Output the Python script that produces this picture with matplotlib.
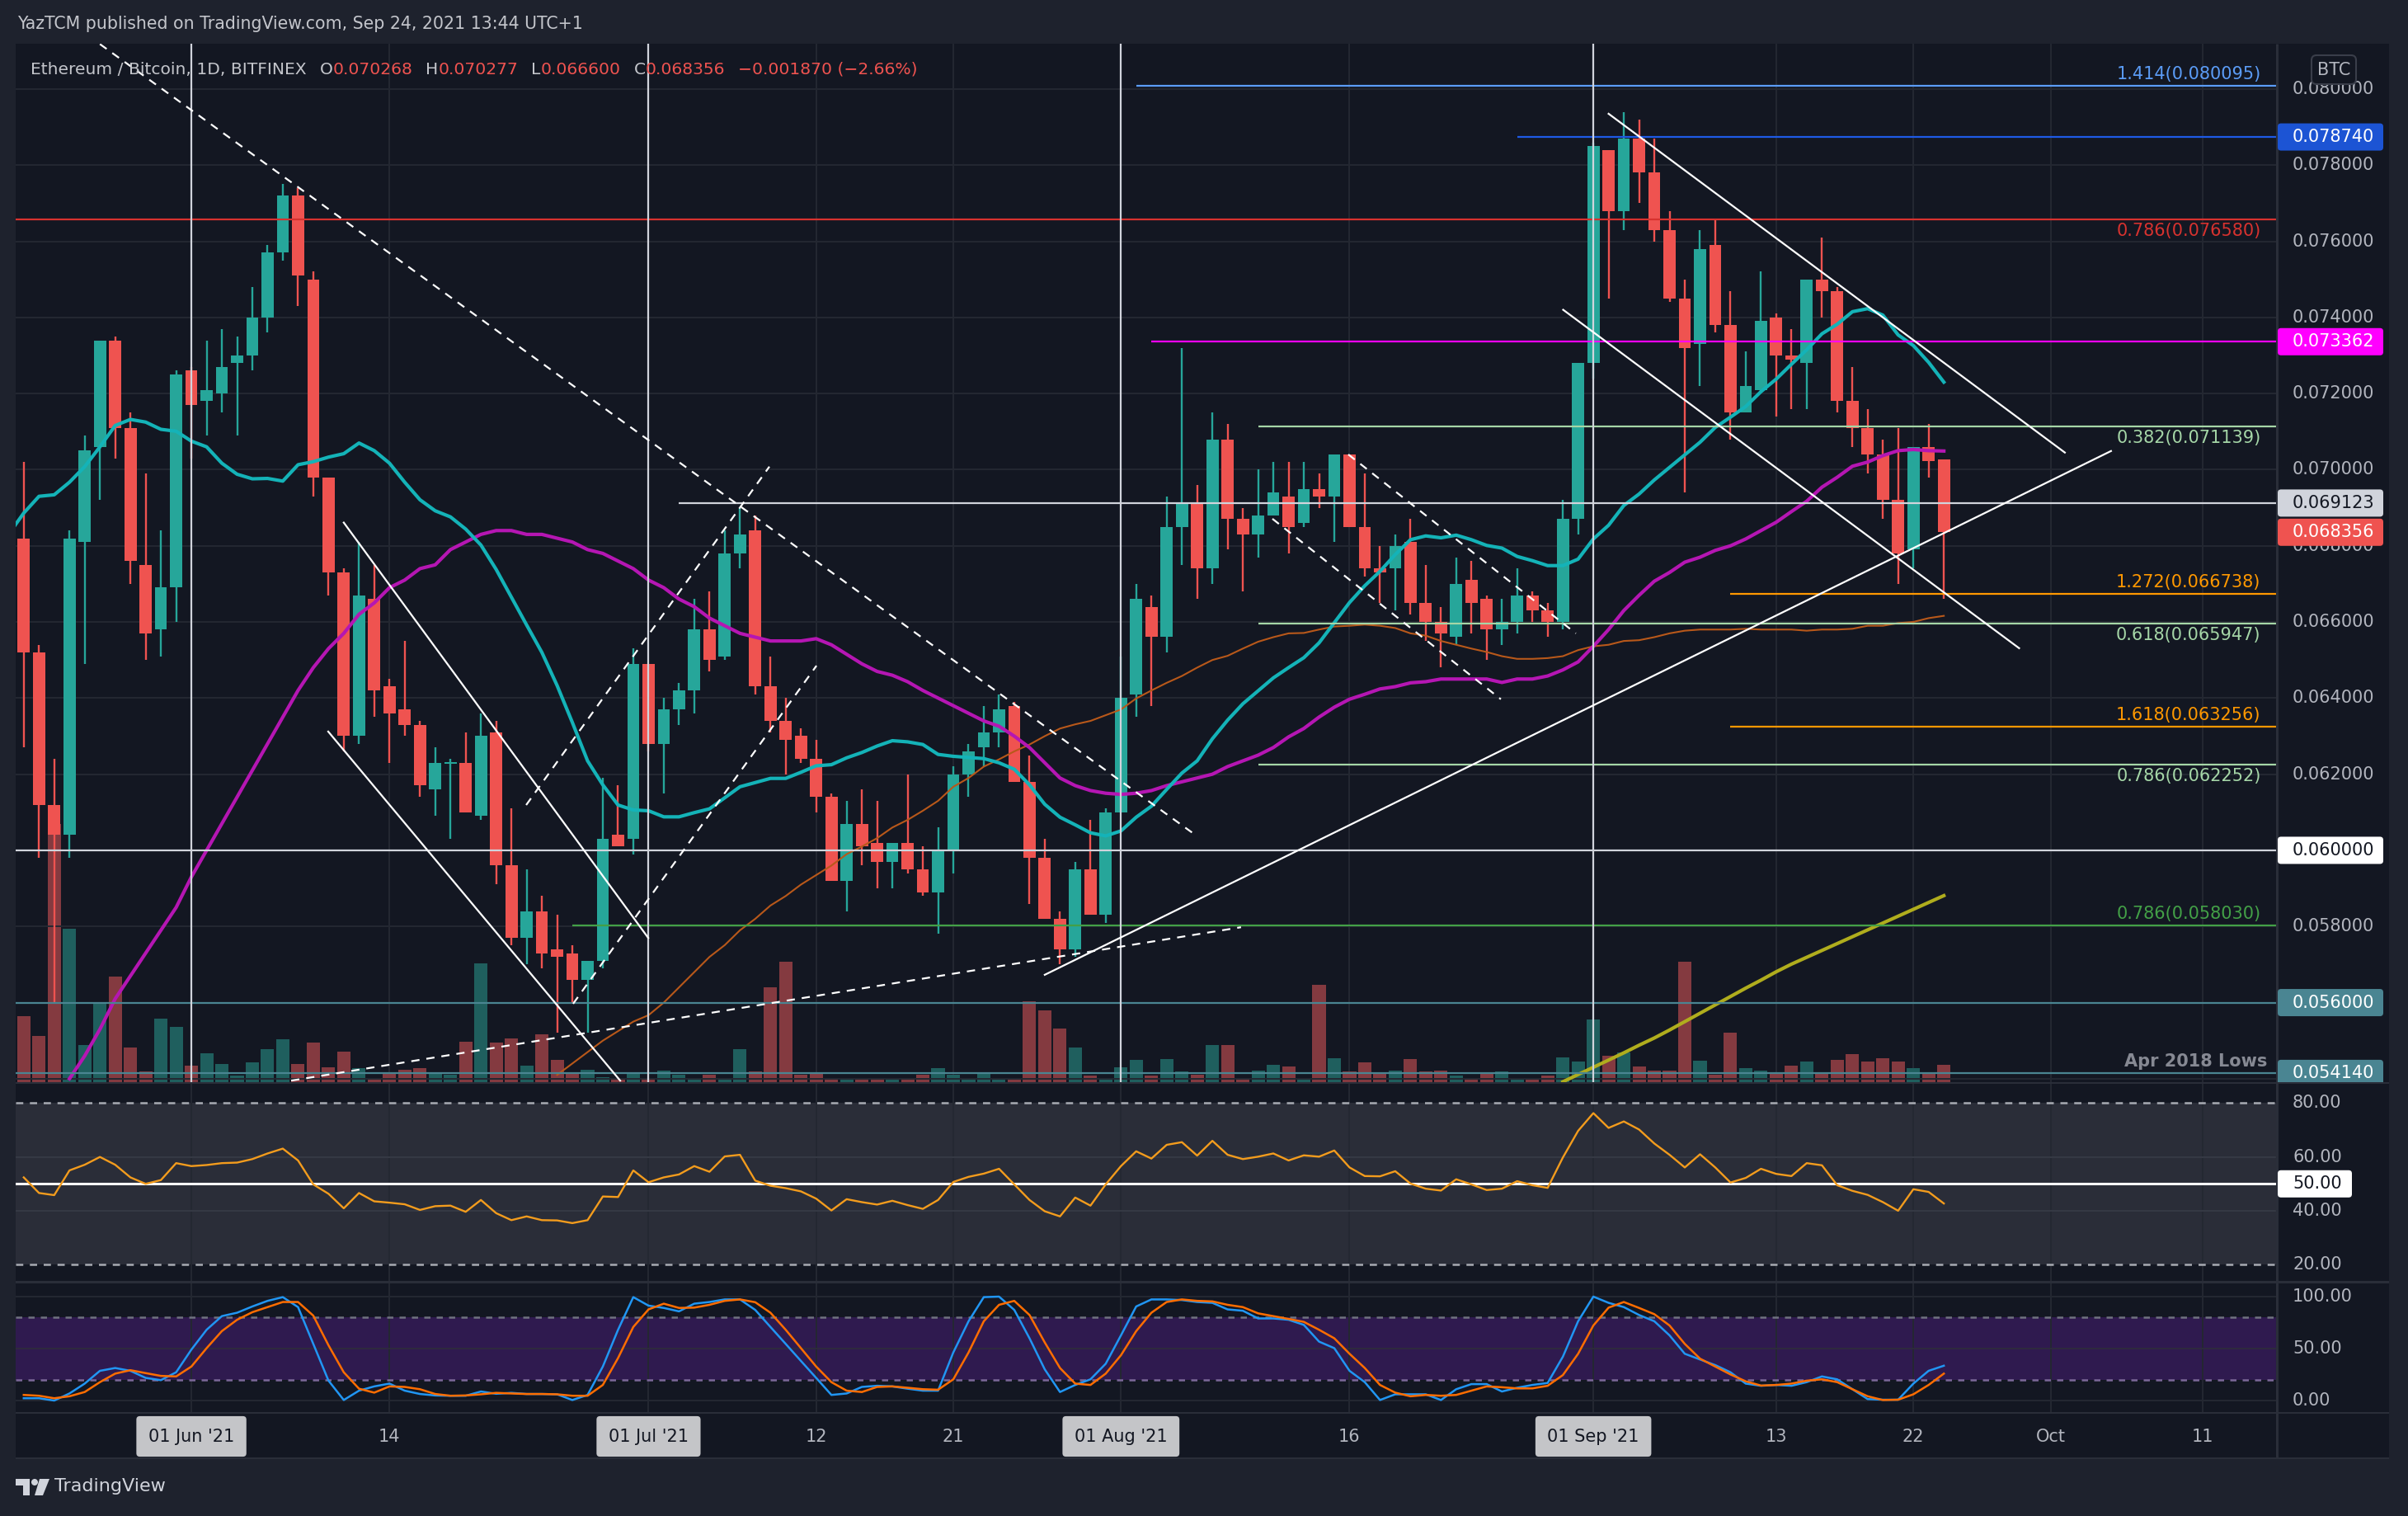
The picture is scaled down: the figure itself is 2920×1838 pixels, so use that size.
import matplotlib
matplotlib.use("Agg")
import matplotlib.pyplot as plt
from matplotlib.patches import Rectangle, Circle, Polygon, FancyBboxPatch
import numpy as np
import pandas as pd

plt.rcParams['font.family'] = ['DejaVu Sans']

# ---------------------------------------------------------------- data
dates = pd.date_range("2021-05-21", "2021-09-24", freq="D")

opens = [0.0682, 0.0652, 0.0612, 0.0604, 0.0681, 0.0706, 0.0734, 0.0711, 0.0675, 0.0658,
         0.0669, 0.0726, 0.0718, 0.0720, 0.0728, 0.0730, 0.0740, 0.0757, 0.0772, 0.0750,
         0.0698, 0.0673, 0.0630, 0.0666, 0.0643, 0.0637, 0.0633, 0.0616, 0.06228, 0.0623,
         0.0609, 0.0631, 0.0596, 0.0577, 0.0584, 0.0574, 0.0573, 0.0566, 0.0571, 0.0604,
         0.0603, 0.0649, 0.0628, 0.0637, 0.0642, 0.0658, 0.0651, 0.0678, 0.0684, 0.0643,
         0.0634, 0.0630, 0.0624, 0.0614, 0.0592, 0.0607, 0.0602, 0.0597, 0.0602, 0.0595,
         0.0589, 0.0600, 0.0620, 0.0627, 0.0631, 0.0638, 0.0618, 0.0598, 0.0582, 0.0574,
         0.0595, 0.0583, 0.0610, 0.0641, 0.0664, 0.0656, 0.0685, 0.0691, 0.0674, 0.0708,
         0.0687, 0.0683, 0.0688, 0.0693, 0.0686, 0.0695, 0.0693, 0.0704, 0.0685, 0.0674,
         0.0674, 0.0681, 0.0665, 0.0660, 0.0656, 0.0671, 0.0666, 0.0658, 0.0660, 0.0667,
         0.0663, 0.0660, 0.0687, 0.0728, 0.0784, 0.0768, 0.0787, 0.0778, 0.0763, 0.0745,
         0.0733, 0.0759, 0.0738, 0.0715, 0.0721, 0.0740, 0.0730, 0.0728, 0.0750, 0.0747,
         0.0718, 0.0711, 0.0704, 0.0692, 0.0679, 0.0706, 0.070268]
highs = [0.0702, 0.0654, 0.0624, 0.0684, 0.0709, 0.0734, 0.0735, 0.0715, 0.0699, 0.0684,
         0.0726, 0.0727, 0.0734, 0.0737, 0.0735, 0.0748, 0.0759, 0.0775, 0.0774, 0.0752,
         0.0698, 0.0674, 0.0681, 0.0675, 0.0645, 0.0655, 0.0634, 0.0627, 0.0624, 0.0631,
         0.0636, 0.0634, 0.0611, 0.0595, 0.0588, 0.0583, 0.0575, 0.0571, 0.0619, 0.0617,
         0.0653, 0.0649, 0.0640, 0.0644, 0.0666, 0.0668, 0.0684, 0.0690, 0.0688, 0.0651,
         0.0640, 0.0632, 0.0629, 0.0615, 0.0613, 0.0616, 0.0613, 0.0602, 0.0620, 0.0601,
         0.0606, 0.0622, 0.0628, 0.0638, 0.0641, 0.0639, 0.0625, 0.0603, 0.0584, 0.0597,
         0.0608, 0.0611, 0.0651, 0.0670, 0.0667, 0.0693, 0.0732, 0.0696, 0.0715, 0.0712,
         0.0690, 0.0700, 0.0702, 0.0702, 0.0702, 0.0699, 0.0704, 0.0704, 0.0699, 0.0680,
         0.0683, 0.0687, 0.0675, 0.0664, 0.0677, 0.0676, 0.0667, 0.0666, 0.0674, 0.0668,
         0.0665, 0.0692, 0.0728, 0.0786, 0.0784, 0.0794, 0.0792, 0.0787, 0.0768, 0.0750,
         0.0763, 0.0766, 0.0747, 0.0731, 0.0752, 0.0741, 0.0737, 0.0750, 0.0761, 0.0748,
         0.0727, 0.0716, 0.0708, 0.0711, 0.0706, 0.0712, 0.070277]
lows = [0.0627, 0.0598, 0.0560, 0.0598, 0.0649, 0.0692, 0.0703, 0.0670, 0.0650, 0.0651,
        0.0660, 0.0703, 0.0709, 0.0715, 0.0709, 0.0726, 0.0736, 0.0755, 0.0743, 0.0693,
        0.0667, 0.0626, 0.0628, 0.0635, 0.0623, 0.0630, 0.0614, 0.0609, 0.0603, 0.0610,
        0.0608, 0.0591, 0.0575, 0.0570, 0.0569, 0.0552, 0.0560, 0.0552, 0.0569, 0.0601,
        0.0599, 0.0626, 0.0615, 0.0633, 0.0636, 0.0647, 0.0650, 0.0674, 0.0641, 0.0631,
        0.0620, 0.0623, 0.0610, 0.0592, 0.0584, 0.0596, 0.0590, 0.0590, 0.0594, 0.0588,
        0.0578, 0.0594, 0.0614, 0.0622, 0.0627, 0.0618, 0.0586, 0.0582, 0.0570, 0.0572,
        0.0583, 0.0581, 0.0610, 0.0635, 0.0638, 0.0652, 0.0675, 0.0666, 0.0670, 0.0679,
        0.0668, 0.0677, 0.0688, 0.0678, 0.0685, 0.0690, 0.0681, 0.0685, 0.0672, 0.0665,
        0.0663, 0.0662, 0.0655, 0.0648, 0.0654, 0.0657, 0.0650, 0.0654, 0.0657, 0.0660,
        0.0656, 0.0658, 0.0683, 0.0724, 0.0745, 0.0763, 0.0770, 0.0760, 0.0744, 0.0694,
        0.0722, 0.0736, 0.0708, 0.0715, 0.0720, 0.0714, 0.0716, 0.0716, 0.0740, 0.0715,
        0.0706, 0.0699, 0.0687, 0.0670, 0.0674, 0.0698, 0.066600]
closes = [0.0652, 0.0612, 0.0604, 0.0682, 0.0705, 0.0734, 0.0711, 0.0676, 0.0657, 0.0669,
          0.0725, 0.0717, 0.0721, 0.0727, 0.0730, 0.0740, 0.0757, 0.0772, 0.0751, 0.0698,
          0.0673, 0.0630, 0.0667, 0.0642, 0.0636, 0.0633, 0.0617, 0.0623, 0.06232, 0.0610,
          0.0630, 0.0596, 0.0577, 0.0584, 0.0573, 0.0572, 0.0566, 0.0571, 0.0603, 0.0601,
          0.0649, 0.0628, 0.0637, 0.0642, 0.0658, 0.0650, 0.0678, 0.0683, 0.0643, 0.0634,
          0.0629, 0.0624, 0.0614, 0.0592, 0.0607, 0.0601, 0.0597, 0.0602, 0.0595, 0.0589,
          0.0600, 0.0620, 0.0626, 0.0631, 0.0637, 0.0618, 0.0598, 0.0582, 0.0574, 0.0595,
          0.0583, 0.0610, 0.0640, 0.0666, 0.0656, 0.0685, 0.0691, 0.0674, 0.0708, 0.0687,
          0.0683, 0.0688, 0.0694, 0.0685, 0.0695, 0.0693, 0.0704, 0.0685, 0.0674, 0.0673,
          0.0680, 0.0665, 0.0660, 0.0657, 0.0670, 0.0665, 0.0658, 0.0660, 0.0667, 0.0663,
          0.0660, 0.0687, 0.0728, 0.0785, 0.0768, 0.0787, 0.0778, 0.0763, 0.0745, 0.0732,
          0.0758, 0.0738, 0.0715, 0.0722, 0.0739, 0.0730, 0.0729, 0.0750, 0.0747, 0.0718,
          0.0711, 0.0704, 0.0692, 0.0678, 0.0706, 0.070226, 0.068356]
volumes = [80, 56, 313, 186, 45, 95, 128, 42, 13, 77,
           67, 20, 35, 22, 8, 24, 40, 52, 22, 48,
           18, 37, 17, 4, 12, 15, 17, 11, 9, 49,
           144, 48, 53, 20, 58, 27, 11, 15, 6, 5,
           12, 5, 14, 9, 5, 9, 5, 40, 13, 115,
           146, 9, 11, 5, 5, 4, 5, 4, 5, 9,
           17, 9, 4, 10, 3, 3, 98, 87, 65, 42,
           8, 5, 18, 27, 8, 28, 13, 9, 45, 45,
           5, 14, 21, 19, 4, 118, 29, 13, 24, 11,
           14, 28, 13, 14, 8, 5, 10, 13, 3, 3,
           8, 30, 25, 76, 32, 36, 19, 14, 14, 146,
           26, 9, 60, 17, 14, 10, 20, 25, 12, 27,
           34, 25, 29, 25, 17, 10, 21]

ma20_start = "2021-05-20"
ma20 = [0.06830,
        0.06886, 0.06930, 0.06934, 0.06967, 0.07008, 0.07060, 0.07116, 0.07132, 0.07125, 0.07106,
        0.07101, 0.07075, 0.07060, 0.07017, 0.06988, 0.06976, 0.06977, 0.06970, 0.07013, 0.07021,
        0.07033, 0.07042, 0.07070, 0.07050, 0.07017, 0.06967, 0.06921, 0.06892, 0.06876, 0.06844,
        0.06802, 0.06738, 0.06665, 0.06592, 0.06520, 0.06433, 0.06336, 0.06235, 0.06172, 0.06119,
        0.06106, 0.06104, 0.06088, 0.06088, 0.06099, 0.06109, 0.06138, 0.06167, 0.06178, 0.06189,
        0.06189, 0.06205, 0.06222, 0.06225, 0.06243, 0.06257, 0.06274, 0.06288, 0.06285, 0.06278,
        0.06252, 0.06247, 0.06244, 0.06241, 0.06230, 0.06213, 0.06172, 0.06121, 0.06087, 0.06067,
        0.06046, 0.06038, 0.06051, 0.06087, 0.06116, 0.06160, 0.06203, 0.06235, 0.06293, 0.06342,
        0.06385, 0.06419, 0.06453, 0.06480, 0.06506, 0.06545, 0.06598, 0.06651, 0.06695, 0.06733,
        0.06777, 0.06816, 0.06826, 0.06821, 0.06828, 0.06816, 0.06801, 0.06794, 0.06772, 0.06761,
        0.06748, 0.06748, 0.06765, 0.06818, 0.06854, 0.06906, 0.06936, 0.06973, 0.07006, 0.07039,
        0.07072, 0.07111, 0.07138, 0.07166, 0.07205, 0.07238, 0.07277, 0.07315, 0.07357, 0.07382,
        0.07415, 0.07423, 0.07406, 0.07354, 0.07326, 0.07282, 0.07230]
ma50_start = "2021-05-24"
ma50 = [0.0540, 0.0546, 0.0553, 0.0561, 0.0567, 0.0573, 0.0579, 0.0585, 0.0593, 0.0600,
        0.0607, 0.0614, 0.0621, 0.0628, 0.0635, 0.0642, 0.0648, 0.0653, 0.0657, 0.0662,
        0.0665, 0.0669, 0.0671, 0.0674, 0.0675, 0.0679, 0.0681, 0.0683, 0.0684, 0.0684,
        0.0683, 0.0683, 0.0682, 0.0681, 0.0679, 0.0678, 0.0676, 0.0674, 0.0671, 0.0669,
        0.0666, 0.0664, 0.0661, 0.0659, 0.0657, 0.0656, 0.0655, 0.0655, 0.0655, 0.06556,
        0.0654, 0.06515, 0.0649, 0.0647, 0.0646, 0.06443, 0.0642, 0.0640, 0.0638, 0.0636,
        0.0634, 0.06326, 0.0630, 0.0627, 0.0623, 0.0619, 0.0617, 0.06157, 0.0615, 0.06147,
        0.0615, 0.06157, 0.0617, 0.0618, 0.0619, 0.0620, 0.0622, 0.06235, 0.0625, 0.0627,
        0.06298, 0.0632, 0.0635, 0.06376, 0.06397, 0.0641, 0.06424, 0.0643, 0.0644, 0.06443,
        0.0645, 0.0645, 0.0645, 0.0645, 0.06441, 0.0645, 0.0645, 0.06458, 0.06474, 0.06495,
        0.06536, 0.0658, 0.0663, 0.0667, 0.06707, 0.0673, 0.06757, 0.0677, 0.06788, 0.0680,
        0.06818, 0.0684, 0.06862, 0.0689, 0.06917, 0.06954, 0.0698, 0.07009, 0.0702, 0.07037,
        0.0705, 0.07053, 0.0705, 0.07049]
ma100_start = "2021-06-25"
ma100 = [0.0541, 0.0544, 0.0547, 0.0550, 0.05525, 0.0555, 0.05567, 0.0560, 0.0564, 0.0568,
         0.0572, 0.05751, 0.0579, 0.0582, 0.05855, 0.0588, 0.0591, 0.05935, 0.0596, 0.0599,
         0.0601, 0.06032, 0.0606, 0.0608, 0.06104, 0.0613, 0.06167, 0.0619, 0.0622, 0.06239,
         0.0626, 0.06278, 0.0630, 0.0632, 0.06331, 0.0634, 0.06355, 0.0637, 0.06399, 0.0642,
         0.0644, 0.06458, 0.0648, 0.0650, 0.06511, 0.0653, 0.06548, 0.0656, 0.0657, 0.06571,
         0.0658, 0.06588, 0.0659, 0.06593, 0.0659, 0.06584, 0.0657, 0.06564, 0.0655, 0.0654,
         0.0653, 0.06521, 0.0651, 0.06503, 0.06503, 0.06505, 0.0651, 0.06526, 0.06536, 0.0654,
         0.0655, 0.06552, 0.0656, 0.0657, 0.06577, 0.0658, 0.0658, 0.0658, 0.06582, 0.0658,
         0.0658, 0.0658, 0.06577, 0.0658, 0.0658, 0.06582, 0.0659, 0.0659, 0.06597, 0.0660,
         0.0661, 0.06616]
ma200_start = "2021-08-30"
ma200 = [0.05392, 0.05411, 0.05430, 0.05449, 0.05468, 0.05488, 0.05507, 0.05528, 0.05550, 0.05572,
         0.05594, 0.05616, 0.05638, 0.05659, 0.05681, 0.05701, 0.05719, 0.05737, 0.05755, 0.05773,
         0.05791, 0.05809, 0.05827, 0.05845, 0.05863, 0.05881]

rsi = [52.4, 46.6, 45.8, 55.0, 57.1, 60.0, 57.1, 52.4, 50.0, 51.4,
       57.7, 56.6, 57.0, 57.7, 57.9, 59.2, 61.3, 63.1, 58.7, 49.8,
       46.3, 40.9, 46.6, 43.5, 43.0, 42.4, 40.3, 41.7, 41.9, 39.6,
       44.0, 39.1, 36.5, 37.9, 36.5, 36.4, 35.4, 36.5, 45.3, 45.1,
       55.0, 50.6, 52.4, 53.5, 56.6, 54.5, 60.2, 60.8, 51.2, 49.3,
       48.4, 47.2, 44.5, 40.1, 44.3, 43.2, 42.3, 43.7, 42.1, 40.7,
       44.0, 50.7, 52.6, 53.8, 55.6, 49.8, 44.0, 39.8, 37.9, 44.9,
       41.9, 49.8, 56.6, 62.1, 59.4, 64.5, 65.5, 60.5, 66.0, 60.8,
       59.2, 60.1, 61.3, 58.7, 60.6, 60.1, 62.4, 56.1, 52.9, 52.8,
       54.7, 50.1, 48.2, 47.5, 51.7, 49.8, 47.7, 48.2, 51.0, 49.5,
       48.5, 59.8, 69.7, 76.3, 70.8, 73.2, 70.2, 65.0, 60.8, 56.1,
       61.0, 56.1, 50.5, 52.2, 55.6, 53.7, 52.9, 57.7, 56.9, 49.5,
       47.4, 45.9, 43.2, 40.0, 48.0, 47.0, 42.7]
stoch_k = [2.2, 2.2, 0.0, 6.8, 16.3, 28.6, 31.3, 28.6, 21.8, 19.6,
           27.2, 49.0, 68.1, 81.2, 84.5, 90.5, 95.9, 99.5, 89.9, 54.5,
           19.1, 0.5, 9.5, 13.6, 16.3, 9.5, 6.3, 4.9, 4.6, 4.6,
           8.7, 6.5, 7.4, 6.3, 6.3, 6.0, 0.5, 5.4, 32.7, 68.1,
           99.5, 91.3, 89.1, 85.8, 93.2, 94.8, 97.3, 97.3, 87.2, 70.8,
           54.5, 38.1, 21.8, 5.4, 6.8, 13.1, 14.2, 13.6, 11.4, 9.5,
           9.5, 46.3, 76.3, 99.5, 100.0, 87.2, 59.9, 30.0, 8.2, 15.0,
           20.4, 35.4, 62.7, 90.5, 97.3, 97.3, 96.7, 94.8, 94.0, 87.7,
           86.4, 79.0, 79.0, 77.7, 72.8, 56.7, 50.4, 28.6, 17.7, 0.5,
           6.0, 6.0, 6.0, 0.5, 10.9, 15.8, 15.8, 8.7, 12.3, 15.0,
           16.9, 42.2, 76.3, 100.0, 94.0, 89.9, 82.3, 76.3, 62.7, 45.0,
           39.5, 34.1, 27.2, 16.3, 14.2, 15.0, 14.2, 17.7, 23.2, 20.4,
           10.9, 1.4, 0.8, 0.8, 16.3, 28.6, 33.5]
stoch_d = [5.4, 4.6, 2.2, 4.1, 8.2, 17.7, 25.9, 29.2, 26.4, 23.7,
           23.2, 32.7, 50.4, 66.8, 77.7, 85.0, 89.9, 94.8, 94.8, 81.7,
           53.1, 27.2, 11.4, 7.6, 13.6, 13.1, 10.9, 6.3, 4.6, 4.9,
           6.0, 7.4, 6.8, 6.3, 6.3, 6.0, 4.6, 4.6, 15.0, 40.9,
           70.8, 87.7, 93.2, 89.1, 89.4, 92.1, 95.9, 97.3, 94.6, 84.5,
           68.1, 50.4, 32.7, 17.7, 9.5, 8.2, 13.1, 13.6, 12.3, 10.9,
           10.4, 20.4, 46.3, 76.3, 92.1, 95.9, 82.3, 55.9, 31.3, 16.3,
           15.0, 25.9, 43.6, 66.8, 84.5, 94.8, 97.3, 95.9, 95.4, 92.1,
           89.9, 83.9, 81.2, 78.5, 75.7, 68.1, 59.9, 45.0, 31.3, 15.0,
           7.6, 4.1, 5.4, 4.6, 5.4, 9.5, 13.6, 12.8, 11.7, 11.7,
           14.2, 24.5, 45.0, 72.2, 89.4, 94.8, 89.1, 83.1, 72.2, 54.5,
           40.3, 32.7, 25.1, 18.5, 14.4, 15.0, 16.3, 19.1, 20.4, 17.7,
           10.9, 4.1, 0.5, 0.8, 6.0, 15.0, 25.9]

# horizontal levels: (price, start date, colour, label, label position)
levels = [
    (0.080095, "2021-08-02", "#5b9cf6", "1.414(0.080095)", "above"),
    (0.078740, "2021-08-27", "#1e5ae6", None, None),
    (0.076580, "2021-05-01", "#d7322f", "0.786(0.076580)", "below"),
    (0.073362, "2021-08-03", "#ff00ff", None, None),
    (0.071139, "2021-08-10", "#a5d6a7", "0.382(0.071139)", "below"),
    (0.069123, "2021-07-03", "#d1d4dc", None, None),
    (0.066738, "2021-09-10", "#ff9800", "1.272(0.066738)", "above"),
    (0.065947, "2021-08-10", "#a5d6a7", "0.618(0.065947)", "below"),
    (0.063256, "2021-09-10", "#ff9800", "1.618(0.063256)", "above"),
    (0.062252, "2021-08-10", "#a5d6a7", "0.786(0.062252)", "below"),
    (0.060000, "2021-05-01", "#d1d4dc", None, None),
    (0.058030, "2021-06-26", "#43a047", "0.786(0.058030)", "above"),
    (0.056000, "2021-05-01", "#4a8592", None, None),
    (0.054140, "2021-05-01", "#4a8592", "Apr 2018 Lows", "above"),
]
# price-scale badges: (price, text, background, text colour)
badges = [
    (0.078740, "0.078740", "#1c54d4", "#ffffff"),
    (0.073362, "0.073362", "#ff00ff", "#ffffff"),
    (0.069123, "0.069123", "#d1d4dc", "#131722"),
    (0.068356, "0.068356", "#ef5350", "#ffffff"),
    (0.060000, "0.060000", "#ffffff", "#131722"),
    (0.056000, "0.056000", "#4a8592", "#ffffff"),
    (0.054140, "0.054140", "#4a8592", "#ffffff"),
]
price_ticks = [0.080, 0.078, 0.076, 0.074, 0.072, 0.070, 0.068, 0.066, 0.064, 0.062, 0.060, 0.058, 0.056]
price_tick_labels = ["0.080000", "0.078000", "0.076000", "0.074000", "0.072000", "0.070000", "0.068000",
                     "0.066000", "0.064000", "0.062000", "0.060000", "0.058000", "0.056000"]

# drawn trend lines (days from 2021-06-01, price)
trend_solid = [((10.0, 0.06861), (29.98, 0.05770)), ((8.98, 0.06312), (28.14, 0.05395)),
               ((56.0, 0.05673), (125.97, 0.07049)), ((93.0, 0.07935), (122.94, 0.07045)),
               ((90.02, 0.07420), (119.94, 0.06531))]
trend_dashed = [((-6.0, 0.08118), (65.9, 0.06040)), ((21.97, 0.06119), (37.93, 0.07008)),
                ((25.05, 0.05597), (41.02, 0.06485)), ((6.55, 0.05395), (68.88, 0.05798)),
                ((75.92, 0.07040), (90.85, 0.06570)), ((70.94, 0.06871), (85.93, 0.06397))]
vline_dates = ["2021-06-01", "2021-07-01", "2021-08-01", "2021-09-01"]

tick_dates = ["2021-06-01", "2021-06-14", "2021-07-01", "2021-07-12", "2021-07-21", "2021-08-01",
              "2021-08-16", "2021-09-01", "2021-09-13", "2021-09-22", "2021-10-01", "2021-10-11"]
tick_labels = ["01 Jun '21", "14", "01 Jul '21", "12", "21", "01 Aug '21", "16", "01 Sep '21",
               "13", "22", "Oct", "11"]
tick_boxed = [True, False, True, False, False, True, False, True, False, False, False, False]

rsi_ticks = [80, 60, 40, 20]
stoch_ticks = [100, 50, 0]

# ---------------------------------------------------------------- layout
W, H = 2920, 1838
fig = plt.figure(figsize=(W / 100, H / 100), dpi=100)
fig.patch.set_facecolor('#1e222d')

BG = '#131722'
GRID = '#242832'
SEP = '#2a2e39'
TXT = '#b2b5be'
UP, DN = '#26a69a', '#ef5350'
VUP, VDN = '#1f5f5e', '#843a40'
FS = 15

X0, X1, XR = 19, 2760, 2897
MAIN = (53, 1312)
RSIP = (1314, 1553)
STOP = (1556, 1712)
TAXP = (1714, 1767)


def fbox(x0, y0, x1, y1):
    return [x0 / W, 1 - y1 / H, (x1 - x0) / W, (y1 - y0) / H]


REF = pd.Timestamp("2021-06-01")


def dnum(d):
    return (pd.Timestamp(d) - REF).days


xmin, xmax = -11.53, 136.8

vax = fig.add_axes(fbox(X0, MAIN[0], X1, MAIN[1]))
ax = fig.add_axes(fbox(X0, MAIN[0], X1, MAIN[1]))
rax = fig.add_axes(fbox(X0, RSIP[0], X1, RSIP[1]))
sax = fig.add_axes(fbox(X0, STOP[0], X1, STOP[1]))
for a in (vax, ax, rax, sax):
    a.set_xlim(xmin, xmax)
    a.set_xticks([])
    a.set_yticks([])
    for s in a.spines.values():
        s.set_visible(False)
vax.set_facecolor(BG)
ax.patch.set_alpha(0)
rax.set_facecolor(BG)
sax.set_facecolor(BG)
ax.set_ylim(0.05391, 0.08119)
vax.set_ylim(0, 1259)
rax.set_ylim(13.9, 87.2)
sax.set_ylim(-11.1, 112.7)

x = np.array((dates - REF).days, dtype=float)
o, h, l, c = (np.array(v) for v in (opens, highs, lows, closes))
up = c >= o

# grid
for d in tick_dates:
    for a in (vax, rax, sax):
        a.axvline(dnum(d), color=GRID, lw=1.4, zorder=0.5)
for p in np.arange(0.054, 0.0801, 0.002):
    ax.axhline(p, color=GRID, lw=1.4, zorder=0.5)

# volume
vax.bar(x, volumes, width=0.87, color=np.where(up, VUP, VDN), linewidth=0, zorder=2)

# candles
ccol = np.where(up, UP, DN)
ax.vlines(x, l, h, colors=ccol, lw=1.7, zorder=4)
ax.bar(x, np.maximum(np.abs(c - o), 0.00004), bottom=np.minimum(o, c), width=0.8,
       color=ccol, linewidth=0, zorder=5)


def ma_x(start, vals):
    return dnum(start) + np.arange(len(vals))


ax.plot(ma_x(ma100_start, ma100), ma100, color='#b8581a', lw=1.5, zorder=6)
ax.plot(ma_x(ma200_start, ma200), ma200, color='#b0ad1d', lw=3.0, zorder=6)
ax.plot(ma_x(ma50_start, ma50), ma50, color='#b516b3', lw=3.0, zorder=6)
ax.plot(ma_x(ma20_start, ma20), ma20, color='#14b3b8', lw=3.0, zorder=6)

# horizontal levels
for p, start, col, lab, pos in levels:
    ax.hlines(p, dnum(start), xmax, color=col, lw=1.6, zorder=7)
    if lab:
        is_note = lab.startswith('Apr')
        fw = 'bold' if is_note else 'normal'
        tc = '#868993' if is_note else col
        off = 14 if pos == 'above' else -14
        ax.annotate(lab, xy=(136.2 if is_note else 135.8, p), xytext=(0, off),
                    textcoords='offset pixels', ha='right', va='center', color=tc,
                    fontsize=FS, fontweight=fw, zorder=8)

# vertical lines
for d in vline_dates:
    ax.axvline(dnum(d), color='#d1d4dc', lw=1.6, zorder=7)

# trend lines
for (a0, a1) in trend_solid:
    ax.plot([a0[0], a1[0]], [a0[1], a1[1]], color='#ffffff', lw=1.6, zorder=8)
for (a0, a1) in trend_dashed:
    ax.plot([a0[0], a1[0]], [a0[1], a1[1]], color='#ffffff', lw=1.6, zorder=8,
            dashes=(4.5, 3.8))

# RSI pane
rax.axhspan(20, 80, color='#2a2d38', zorder=0.3, lw=0)
for v in (40, 60):
    rax.axhline(v, color='#363a45', lw=1.4, zorder=0.6)
for v in (80, 20):
    rax.axhline(v, color='#a8abb3', lw=1.8, dashes=(3.5, 3.2), zorder=2)
rax.axhline(50, color='#ffffff', lw=2.2, zorder=3)
rax.plot(x, rsi, color='#f39c1d', lw=1.7, zorder=4)

# Stoch RSI pane
sax.axhspan(20, 80, color='#2f1a4f', zorder=0.3, lw=0)
for v in (0, 50, 100):
    sax.axhline(v, color='#2e2a3e' if v == 50 else GRID, lw=1.4, zorder=0.6)
sax.axhline(80, color='#6f7280', lw=1.8, dashes=(3.0, 3.0), zorder=2)
sax.axhline(20, color='#7b6899', lw=1.8, dashes=(3.0, 3.0), zorder=2)
sax.plot(x, stoch_k, color='#2196f3', lw=1.8, zorder=4)
sax.plot(x, stoch_d, color='#ff6d00', lw=1.8, zorder=4)

# ---------------------------------------------------------------- overlay (pixel coords)
ov = fig.add_axes([0, 0, 1, 1], zorder=20)
ov.set_xlim(0, W)
ov.set_ylim(H, 0)
ov.axis('off')
ov.patch.set_alpha(0)


def py(a, v):
    return H - a.transData.transform((0, v))[1]


def px(a, d):
    return a.transData.transform((d, 0))[0]


# price axis column
ov.add_patch(Rectangle((X1, MAIN[0]), XR - X1, TAXP[1] - MAIN[0], color=BG, lw=0, zorder=1))
ov.vlines(X1 + 1, MAIN[0], TAXP[1], color=SEP, lw=2.2, zorder=2)
for p, t in zip(price_ticks, price_tick_labels):
    yy = py(ax, p)
    if MAIN[0] + 10 < yy < MAIN[1] - 5:
        ov.text(2780, yy, t, color=TXT, fontsize=FS, va='center', ha='left', zorder=3)
for p, t, bg, tc in badges:
    yy = py(ax, p)
    ov.add_patch(FancyBboxPatch((X1 + 2, yy - 16.5), 128, 33, boxstyle='round,pad=0,rounding_size=4',
                                fc=bg, ec='none', zorder=4))
    ov.text(2780, yy, t, color=tc, fontsize=FS, va='center', ha='left', zorder=5)
# BTC tag
ov.add_patch(FancyBboxPatch((2803, 67), 54, 35, boxstyle='round,pad=0,rounding_size=6',
                            fc=BG, ec='#3a3e4a', lw=1.5, zorder=6))
ov.text(2830, 85, "BTC", color=TXT, fontsize=FS, va='center', ha='center', zorder=7)

# cover below main pane in price column, then separators
ov.add_patch(Rectangle((X1 + 2, MAIN[1]), XR - X1 - 2, TAXP[1] - MAIN[1], color=BG, lw=0, zorder=8))
for y0, y1 in ((MAIN[1], RSIP[0]), (RSIP[1], STOP[0]), (STOP[1], TAXP[0])):
    ov.add_patch(Rectangle((X0, y0), XR - X0, y1 - y0, color=SEP, lw=0, zorder=9))
ov.vlines(X1 + 1, MAIN[1], TAXP[1], color=SEP, lw=2.2, zorder=9)
ov.add_patch(Rectangle((X0, TAXP[1]), XR - X0, 2, color=SEP, lw=0, zorder=9))

# RSI labels
for v in rsi_ticks:
    ov.text(2780, py(rax, v), f"{v:.2f}", color=TXT, fontsize=FS, va='center', ha='left', zorder=10)
yy = py(rax, 50)
ov.add_patch(FancyBboxPatch((X1 + 2, yy - 16.5), 90, 33, boxstyle='round,pad=0,rounding_size=4',
                            fc='#ffffff', ec='none', zorder=10))
ov.text(2780, yy, "50.00", color='#131722', fontsize=FS, va='center', ha='left', zorder=11)
for v in stoch_ticks:
    ov.text(2780, py(sax, v), f"{v:.2f}", color=TXT, fontsize=FS, va='center', ha='left', zorder=10)

# time axis
ov.add_patch(Rectangle((X0, TAXP[0]), X1 - X0, TAXP[1] - TAXP[0], color=BG, lw=0, zorder=1))
ty = (TAXP[0] + TAXP[1]) / 2 + 1
for d, lab, bx in zip(tick_dates, tick_labels, tick_boxed):
    xx = px(ax, dnum(d))
    if bx:
        ov.text(xx, ty, lab, color='#131722', fontsize=FS, va='center', ha='center', zorder=12,
                bbox=dict(boxstyle='round,pad=0.7,rounding_size=0.2', fc='#c4c5c8', ec='none'))
    else:
        ov.text(xx, ty, lab, color=TXT, fontsize=FS, va='center', ha='center', zorder=12)

# header & legend
ov.text(21, 29, "YazTCM published on TradingView.com, Sep 24, 2021 13:44 UTC+1",
        color='#c3c5cb', fontsize=14.8, va='center', ha='left', zorder=12)
renderer = fig.canvas.get_renderer()
pieces = [("Ethereum / Bitcoin, 1D, BITFINEX", '#c3c5cb', 16), ("O", '#c3c5cb', 0), ("0.070268", DN, 16),
          ("H", '#c3c5cb', 0), ("0.070277", DN, 16), ("L", '#c3c5cb', 0), ("0.066600", DN, 16),
          ("C", '#c3c5cb', 0), ("0.068356", DN, 16), ("\u22120.001870 (\u22122.66%)", DN, 0)]
cx = 37
for s, col, gap in pieces:
    t = ov.text(cx, 84, s, color=col, fontsize=14.6, va='center', ha='left', zorder=12)
    cx += t.get_window_extent(renderer).width + gap

# TradingView logo
lc = '#d1d4dc'
ov.add_patch(Polygon([(19, 1793), (36, 1793), (36, 1813), (28, 1813), (28, 1801), (19, 1801)],
                     closed=True, fc=lc, ec='none', zorder=12))
ov.add_patch(Circle((42, 1797), 4, fc=lc, ec='none', zorder=12))
ov.add_patch(Polygon([(48, 1793), (60, 1793), (52, 1813), (42, 1813)], closed=True, fc=lc, ec='none',
                     zorder=12))
ov.text(66, 1802, "TradingView", color=lc, fontsize=16, va='center', ha='left', zorder=12)

fig.savefig("out.png", dpi=100, facecolor=fig.get_facecolor())
